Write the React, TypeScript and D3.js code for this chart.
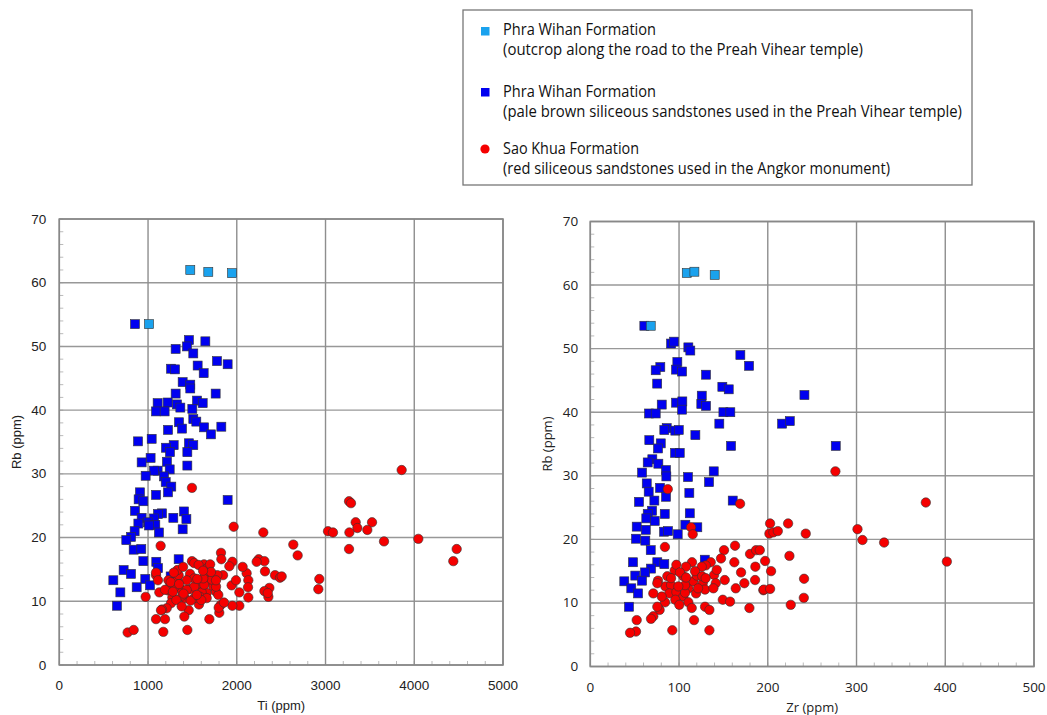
import React from "react";
import * as d3 from "d3";

// ---------- DATA ----------
// Left panel: Ti (ppm) vs Rb (ppm)
const tiOutcrop: [number, number][] = [[1476, 62.0], [1679, 61.7], [1946, 61.5], [1011, 53.5]];
const tiTemple: [number, number][] = [
  [853, 53.5], [1461, 51.0], [1646, 50.8], [1311, 49.6], [1439, 50.0], [1510, 48.9], [1777, 47.7], [1897, 47.2],
  [1559, 47.0], [1259, 46.5], [1304, 46.4], [1627, 45.8], [1390, 44.4], [1476, 44.0], [1476, 43.4], [1311, 42.6],
  [1762, 42.6], [1552, 41.5], [1616, 41.1], [1108, 41.1], [1221, 41.2], [1326, 40.9], [1364, 40.4], [1499, 40.2],
  [1090, 39.8], [1187, 39.8], [1510, 38.6], [1544, 38.2], [1349, 38.1], [1631, 37.3], [1383, 37.1], [1225, 36.9],
  [1826, 37.4], [1709, 36.2], [1041, 35.5], [887, 35.1], [1461, 34.8], [1510, 34.5], [1289, 34.5], [1202, 34.1],
  [1247, 33.4], [1443, 33.4], [1029, 32.5], [928, 31.8], [1213, 31.9], [1443, 31.3], [1244, 30.7], [1108, 30.5],
  [1067, 30.5], [973, 29.7], [1180, 29.6], [1199, 28.7], [1262, 28.0], [1225, 27.1], [909, 27.1], [1090, 26.7],
  [894, 26.0], [947, 25.7], [1897, 25.9], [853, 24.2], [1405, 24.1], [1157, 23.8], [1112, 23.7], [1285, 23.1],
  [1432, 22.9], [928, 23.1], [1067, 23.0], [999, 22.4], [891, 22.2], [1082, 22.0], [1011, 21.9], [1390, 21.3],
  [849, 21.0], [1123, 20.8], [808, 20.1], [755, 19.6], [838, 18.1], [924, 18.2], [1093, 16.2], [1345, 16.6],
  [947, 16.3], [1112, 15.2], [725, 14.9], [808, 14.3], [609, 13.3], [969, 13.5], [1255, 13.9], [1022, 12.5],
  [872, 12.2], [688, 11.4], [650, 9.3]
];
const tiAngkor: [number, number][] = [
  [3858, 30.6], [1495, 27.8], [1965, 21.7], [2299, 20.8], [3028, 21.0], [3084, 20.8], [3265, 25.7], [3287, 25.4],
  [3340, 22.4], [3359, 21.5], [3524, 22.4], [3471, 21.2], [3269, 20.8], [3265, 18.2], [3659, 19.4], [4046, 19.8],
  [4478, 18.2], [4440, 16.3], [2637, 18.9], [2686, 17.2], [2930, 13.5], [2919, 11.9], [1142, 18.7],
  [2247, 16.6], [2311, 16.3], [2318, 14.7], [2224, 16.2], [2431, 14.1], [2487, 13.7], [2506, 13.9], [2367, 12.1],
  [2311, 11.6], [2356, 10.7], [2349, 11.3], [2111, 14.4], [2066, 15.4], [2130, 13.3], [2127, 12.2], [2130, 10.6],
  [2029, 11.4], [2029, 9.3], [1950, 9.3], [1942, 12.5], [1991, 13.3], [1950, 16.2], [1916, 15.5], [1822, 17.6],
  [1826, 16.6], [1845, 14.1], [1781, 14.1], [1818, 9.4], [1803, 8.2], [1796, 9.0], [1495, 16.3], [1631, 15.8],
  [1676, 15.3], [1687, 14.5], [1668, 13.3], [1612, 12.2], [1661, 11.3], [1604, 11.4], [1574, 9.5], [1521, 10.5],
  [1458, 8.6], [1443, 5.5], [1409, 7.6], [1416, 10.5], [1386, 10.9], [1360, 12.0], [1326, 13.3], [1345, 14.1],
  [1330, 14.9], [1251, 12.8], [1229, 11.7], [1274, 10.6], [1259, 9.7], [1210, 8.9], [1157, 8.7], [1090, 14.1],
  [1090, 14.5], [1112, 13.3], [1127, 11.4], [1146, 8.6], [1090, 7.2], [1191, 7.2], [1172, 5.2], [973, 10.7],
  [770, 5.1], [838, 5.5], [1691, 7.2], [1856, 9.8], [1473, 14.3], [1473, 11.9], [1567, 12.8], [1634, 12.6],
  [1736, 12.3], [1766, 11.5], [1792, 11.0], [1766, 12.3], [1717, 13.4], [1766, 13.3], [1623, 13.6], [1521, 12.3],
  [1435, 11.8], [1304, 12.3], [1319, 10.2], [1379, 9.2], [1480, 10.1], [1586, 10.7], [1661, 10.5], [1521, 13.6],
  [1229, 13.3], [1191, 11.8], [1435, 13.3], [1255, 13.0], [1290, 14.5], [1395, 15.4], [1520, 16.0], [1570, 15.7],
  [1555, 13.5], [1700, 15.8], [1710, 14.6], [1620, 14.8], [1600, 10.2], [1350, 12.7], [1400, 11.2], [1550, 11.0],
  [1280, 11.5]
];

// Right panel: Zr (ppm) vs Rb (ppm)
const zrOutcrop: [number, number][] = [[108.7, 61.9], [117.3, 62.1], [140.2, 61.6], [68.1, 53.6]];
const zrTemple: [number, number][] = [
  [60.9, 53.6], [91.0, 50.8], [94.4, 51.1], [110.5, 50.2], [112.7, 49.7], [169.1, 49.0], [178.9, 47.3], [78.9, 47.1],
  [73.7, 46.6], [98.1, 47.9], [96.6, 46.7], [103.4, 46.4], [130.4, 45.9], [75.4, 44.5], [148.8, 44.0], [156, 43.6],
  [125.6, 42.6], [80.5, 41.2], [96.6, 41.5], [103.7, 41.7], [103.4, 40.4], [125.1, 41.3], [130.4, 41.0], [66.2, 39.8],
  [73.7, 39.8], [150, 40.0], [157.8, 40.0], [145.4, 38.2], [86.1, 37.5], [83.4, 37.2], [95.8, 37.1], [99.7, 37.2],
  [118.4, 36.4], [66.5, 35.6], [158.6, 34.7], [241.3, 42.7], [216.1, 38.2], [224.8, 38.6], [276.6, 34.7],
  [79.4, 35.1], [76.3, 34.3], [95.5, 33.6], [100.8, 33.6], [69.9, 32.6], [64.7, 32.1], [76.7, 31.9], [85.3, 30.9],
  [85.7, 29.9], [139.1, 30.7], [133.8, 29.0], [110.1, 29.8], [58.3, 30.5], [63.6, 28.8], [78.6, 28.1], [65.8, 27.5],
  [72.2, 26.1], [54.9, 25.9], [85.3, 26.7], [111.6, 27.3], [160.5, 26.1], [69.6, 24.5], [64.7, 24.0], [63.1, 23.3],
  [83.9, 24.0], [112.1, 24.1], [72.6, 22.9], [52.3, 22.0], [62.5, 21.5], [83.1, 21.2], [87.6, 21.3], [107.1, 22.3],
  [120.6, 21.9], [98.5, 20.8], [51.5, 20.1], [62, 19.8], [68.1, 18.3], [48.1, 16.4], [75.5, 16.4], [83.4, 16.1],
  [68.4, 15.4], [61.7, 14.8], [129, 16.8], [50.7, 14.3], [58.3, 13.5], [38.3, 13.4], [46.2, 12.3], [53.8, 11.5],
  [43.6, 9.4]
];
const zrAngkor: [number, number][] = [
  [87.3, 27.9], [168.8, 25.6], [113.5, 21.9], [115.4, 20.8], [84.1, 18.8], [150.7, 18.3], [163.1, 19.0], [180, 17.7],
  [186.8, 18.3], [147.3, 17.0], [162.3, 16.4], [135.7, 16.4], [130.1, 15.9], [125.6, 15.7], [114.6, 16.4], [107.9, 15.7],
  [186, 15.7], [169.9, 14.8], [151.5, 13.6], [139.5, 14.4], [141.4, 13.1], [149.3, 10.5], [157.5, 10.2], [173.6, 13.1],
  [163.9, 12.3], [185.7, 13.6], [195, 12.0], [179.3, 9.2], [95.1, 15.1], [86.8, 14.2], [76.3, 13.5], [84.6, 12.6],
  [91, 12.8], [89, 11.5], [97, 11.7], [104.8, 11.0], [110.5, 12.3], [116.1, 13.4], [120, 14.3], [126.7, 13.1],
  [129.3, 12.1], [119.2, 11.5], [110.5, 10.1], [114.3, 9.2], [116.9, 7.3], [129.3, 9.4], [134.2, 8.9], [134.2, 5.7],
  [92.4, 5.7], [78.1, 8.9], [71, 7.9], [68.4, 7.5], [52.3, 7.3], [51.5, 5.5], [44.8, 5.3], [84.2, 10.1],
  [75.5, 9.4], [80.5, 11.0], [71, 11.5], [75.5, 13.1], [95.8, 10.5], [100.3, 9.7], [106.8, 11.6], [121.4, 12.3],
  [138.7, 12.3], [142.5, 15.2], [104.8, 14.2], [106.8, 12.8], [99.2, 12.6], [97, 16.0], [101, 14.8], [108, 14.0],
  [118, 15.0], [126, 14.2], [91, 13.9], [130, 13.9],
  [276.2, 30.7], [378.1, 25.8], [401.8, 16.5], [301.1, 21.6], [306.7, 19.9], [331.1, 19.5], [202.6, 22.5],
  [222.9, 22.5], [201.8, 20.9], [206.3, 21.1], [211.3, 21.3], [242.8, 20.9], [224.4, 17.4], [197, 16.6],
  [203.7, 15.0], [240.9, 13.8], [195.5, 12.1], [202.6, 12.2], [240.6, 10.8], [225.9, 9.7], [191, 18.3]
];

const yTicks = [0, 10, 20, 30, 40, 50, 60, 70];
const tiTicks = [0, 1000, 2000, 3000, 4000, 5000];
const zrTicks = [0, 100, 200, 300, 400, 500];

const legendEntries = [
  { title: "Phra Wihan Formation", sub: "(outcrop along the road to the Preah Vihear temple)", kind: "outcrop" },
  { title: "Phra Wihan Formation", sub: "(pale brown siliceous sandstones used in the Preah Vihear temple)", kind: "temple" },
  { title: "Sao Khua Formation", sub: "(red siliceous sandstones used in the Angkor monument)", kind: "angkor" },
];

const COLORS: Record<string, string> = { outcrop: "#1aa2ee", temple: "#0000f0", angkor: "#f50000" };

type PanelProps = {
  left: number; right: number; top: number; bottom: number;
  xMax: number; xTicks: number[]; xMinor: number; xTitle: string;
  outcrop: [number, number][]; temple: [number, number][]; angkor: [number, number][];
  font: string; labelGap: number;
};

function Panel(p: PanelProps) {
  const x = d3.scaleLinear().domain([0, p.xMax]).range([p.left, p.right]);
  const y = d3.scaleLinear().domain([0, 70]).range([p.bottom, p.top]);
  const xMinorTicks = d3.range(0, p.xMax + 0.001, p.xMinor);
  const yMinorTicks = d3.range(0, 70.001, 2);
  const sq = 9;
  const stroke = "#333";
  return (
    <g>
      {xMinorTicks.map((t) => (
        <line key={"xm" + t} x1={x(t)} x2={x(t)} y1={p.bottom} y2={p.bottom - 4} stroke="#bbb" strokeWidth={1} />
      ))}
      {yMinorTicks.map((t) => (
        <line key={"ym" + t} x1={p.left} x2={p.left + 4} y1={y(t)} y2={y(t)} stroke="#bbb" strokeWidth={1} />
      ))}
      {yTicks.map((t) => (
        <line key={"gy" + t} x1={p.left} x2={p.right} y1={y(t)} y2={y(t)} stroke="#989898" strokeWidth={1.4} />
      ))}
      {p.xTicks.map((t) => (
        <line key={"gx" + t} x1={x(t)} x2={x(t)} y1={p.top} y2={p.bottom} stroke="#8e8e8e" strokeWidth={1.4} />
      ))}
      <rect x={p.left} y={p.top} width={p.right - p.left} height={p.bottom - p.top} fill="none" stroke="#888" strokeWidth={1.6} />
      {yTicks.map((t) => (
        <text key={"ly" + t} x={p.left - p.labelGap} y={y(t) + 4.5} textAnchor="end" fontSize={13.5} fill="#222" fontFamily={p.font}>{t}</text>
      ))}
      {p.xTicks.map((t) => (
        <text key={"lx" + t} x={x(t)} y={p.bottom + 25} textAnchor="middle" fontSize={13.5} fill="#222" fontFamily={p.font}>{t}</text>
      ))}
      <text x={(p.left + p.right) / 2} y={p.bottom + 45} textAnchor="middle" fontSize={13} fill="#222" fontFamily={p.font}>{p.xTitle}</text>
      <text transform={`translate(${p.left - 38},${(p.top + p.bottom) / 2}) rotate(-90)`} textAnchor="middle" fontSize={13} fill="#222" fontFamily={p.font}>Rb (ppm)</text>
      {p.temple.map((d, i) => (
        <rect key={"t" + i} x={x(d[0]) - sq / 2} y={y(d[1]) - sq / 2} width={sq} height={sq} fill={COLORS.temple} stroke={stroke} strokeWidth={0.6} />
      ))}
      {p.angkor.map((d, i) => (
        <circle key={"a" + i} cx={x(d[0])} cy={y(d[1])} r={4.7} fill={COLORS.angkor} stroke={stroke} strokeWidth={0.6} />
      ))}
      {p.outcrop.map((d, i) => (
        <rect key={"o" + i} x={x(d[0]) - sq / 2} y={y(d[1]) - sq / 2} width={sq} height={sq} fill={COLORS.outcrop} stroke={stroke} strokeWidth={0.6} />
      ))}
    </g>
  );
}

function Legend() {
  const bx = 463, by = 10, bw = 509, bh = 175;
  const titleY = [35, 97, 154];
  const subY = [55, 117, 174];
  const titleW = [153, 153, 136];
  const subW = [360, 459, 387];
  const markerY = [31, 92, 149];
  const font = "'Open Sans', 'DejaVu Sans', sans-serif";
  return (
    <g>
      <rect x={bx} y={by} width={bw} height={bh} fill="#fff" stroke="#777" strokeWidth={1.3} />
      {legendEntries.map((e, i) => (
        <g key={i}>
          {e.kind === "angkor" ? (
            <circle cx={485} cy={markerY[i]} r={4.6} fill={COLORS.angkor} />
          ) : (
            <rect x={481} y={markerY[i] - 4} width={8.5} height={8.5} fill={COLORS[e.kind]} />
          )}
          <text x={503} y={titleY[i]} fontSize={15.5} fill="#111" fontFamily={font} textLength={titleW[i]} lengthAdjust="spacingAndGlyphs">{e.title}</text>
          <text x={503} y={subY[i]} fontSize={15.5} fill="#111" fontFamily={font} textLength={subW[i]} lengthAdjust="spacingAndGlyphs">{e.sub}</text>
        </g>
      ))}
    </g>
  );
}

export default function App() {
  return (
    <svg width={1047} height={715} style={{ position: "absolute", left: 0, top: 0, background: "#fff" }}>
      <rect x={0} y={0} width={1047} height={715} fill="#fff" />
      <Legend />
      <Panel left={59.3} right={503} top={219} bottom={665} xMax={5000} xTicks={tiTicks} xMinor={200} xTitle="Ti (ppm)"
        outcrop={tiOutcrop} temple={tiTemple} angkor={tiAngkor} font="'Liberation Sans', Arial, sans-serif" labelGap={13} />
      <Panel left={590.3} right={1034} top={221.5} bottom={666.5} xMax={500} xTicks={zrTicks} xMinor={20} xTitle="Zr (ppm)"
        outcrop={zrOutcrop} temple={zrTemple} angkor={zrAngkor} font="'Open Sans', 'DejaVu Sans', sans-serif" labelGap={12} />
    </svg>
  );
}
